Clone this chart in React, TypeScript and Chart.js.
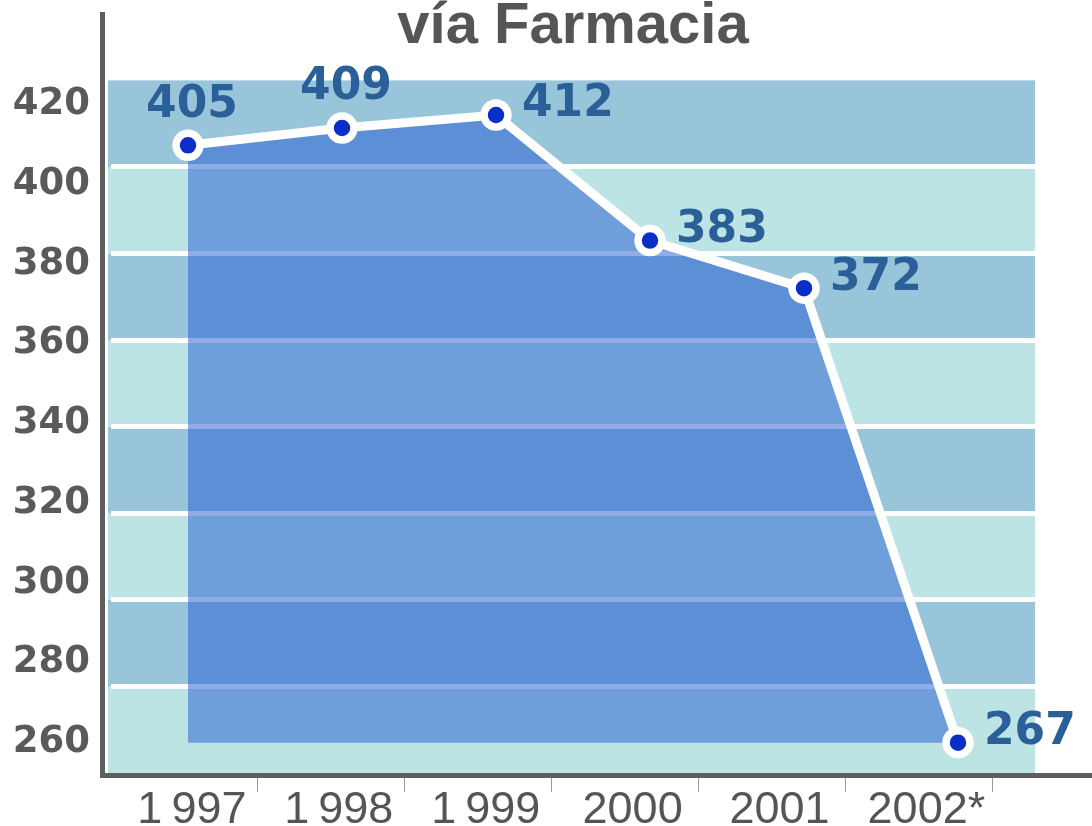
import React, { useEffect, useRef } from 'react';
import { Chart, registerables } from 'chart.js';

Chart.register(...registerables);

const titleText = 'vía Farmacia';
const categories = ['1\u2009997', '1\u2009998', '1\u2009999', '2000', '2001', '2002*'];
const values = [405, 409, 412, 383, 372, 267];
const yTickValues = [260, 280, 300, 320, 340, 360, 380, 400, 420];

const Y_MIN = yTickValues[0];
const Y_MAX = yTickValues[yTickValues.length - 1];

const bandsPlugin = {
  id: 'bands',
  beforeDraw(chart: any) {
    const { ctx, chartArea } = chart;
    const y = chart.scales.y;
    ctx.save();
    for (let i = 0; i < yTickValues.length - 1; i++) {
      const top = y.getPixelForValue(yTickValues[i + 1]);
      const bottom = y.getPixelForValue(yTickValues[i]);
      ctx.fillStyle = i % 2 === 1 ? '#98c5da' : '#bde4e4';
      ctx.fillRect(chartArea.left - 3, top, chartArea.right - chartArea.left + 3, bottom - top);
    }
    ctx.restore();
  },
};

const valueLabelsPlugin = {
  id: 'valueLabels',
  afterDatasetsDraw(chart: any) {
    const { ctx } = chart;
    const meta = chart.getDatasetMeta(0);
    ctx.save();
    ctx.font = 'bold 44px "DejaVu Sans"';
    ctx.fillStyle = '#2b5f97';
    ctx.textBaseline = 'middle';
    meta.data.forEach((pt: any, i: number) => {
      const v = values[i];
      const rising = i < values.length - 1 && values[i + 1] > v;
      if (rising) {
        ctx.textAlign = 'center';
        ctx.fillText(String(v), pt.x + 4, pt.y - 40);
      } else {
        ctx.textAlign = 'left';
        ctx.fillText(String(v), pt.x + 26, pt.y - 10);
      }
    });
    ctx.restore();
  },
};

const axisLinesPlugin = {
  id: 'axisLines',
  afterDraw(chart: any) {
    const { ctx, chartArea, width } = chart;
    ctx.save();
    ctx.strokeStyle = '#5e5e5e';
    ctx.lineWidth = 5;
    ctx.lineCap = 'butt';
    ctx.beginPath();
    ctx.moveTo(chartArea.left - 8.5, 12);
    ctx.lineTo(chartArea.left - 8.5, chartArea.bottom + 5);
    ctx.moveTo(chartArea.left - 11, chartArea.bottom + 2.5);
    ctx.lineTo(width, chartArea.bottom + 2.5);
    ctx.stroke();
    ctx.restore();
  },
};

export default function App() {
  const canvasRef = useRef<HTMLCanvasElement | null>(null);

  useEffect(() => {
    if (!canvasRef.current) return;
    const chart = new Chart(canvasRef.current, {
      type: 'line',
      data: {
        labels: categories,
        datasets: [
          {
            data: values,
            xAxisID: 'x',
            yAxisID: 'y',
            borderColor: '#ffffff',
            borderWidth: 9,
            backgroundColor: 'rgba(31, 90, 208, 0.5)',
            fill: { value: Math.min(...values) },
            tension: 0,
            pointRadius: 12,
            pointBorderWidth: 7.5,
            pointBackgroundColor: '#0a2ec8',
            pointBorderColor: '#ffffff',
            clip: false as any,
          },
        ],
      },
      options: {
        responsive: false,
        animation: false,
        layout: { padding: { left: 0, right: 57, top: 0, bottom: 0 } },
        plugins: {
          legend: { display: false },
          tooltip: { enabled: false },
          title: {
            display: true,
            text: titleText,
            color: '#555555',
            fullSize: false,
            font: { family: 'Liberation Sans', size: 58, weight: 'bold', lineHeight: 0.8 },
            padding: { top: 4, bottom: 30 },
          },
        },
        scales: {
          x: {
            type: 'category',
            offset: true,
            display: false,
          },
          x2: {
            type: 'linear',
            position: 'bottom',
            min: -1,
            max: 5.29,
            afterBuildTicks: (s: any) => {
              s.ticks = categories.map((_, i) => ({ value: i }));
            },
            afterFit: (s: any) => {
              s.height = 53;
            },
            ticks: {
              stepSize: 1,
              autoSkip: false,
              maxRotation: 0,
              labelOffset: -66,
              padding: -8,
              color: '#555555',
              font: { family: 'Liberation Sans', size: 45 },
              callback: (v: any) => categories[v] ?? '',
            },
            grid: { drawOnChartArea: false, drawTicks: true, tickLength: 19, color: '#9a9a9a', lineWidth: 1 },
            border: { display: false },
          },
          y: {
            type: 'linear',
            position: 'left',
            min: Y_MIN,
            max: Y_MAX,
            afterFit: (s: any) => {
              s.width = 0;
            },
            ticks: { stepSize: 20, display: false },
            grid: {
              drawTicks: false,
              lineWidth: 5,
              color: (c: any) =>
                c.tick && (c.tick.value === Y_MIN || c.tick.value === Y_MAX) ? 'rgba(0,0,0,0)' : '#ffffff',
            },
            border: { display: false },
          },
          yl: {
            type: 'linear',
            position: 'left',
            min: 252.36,
            max: 426.01,
            afterBuildTicks: (s: any) => {
              s.ticks = yTickValues.map((v) => ({ value: v }));
            },
            afterFit: (s: any) => {
              s.width = 111;
            },
            ticks: {
              padding: 21,
              color: '#5a5a5a',
              font: { family: 'DejaVu Sans', size: 37, weight: 'bold' },
            },
            grid: { display: false, drawTicks: false },
            border: { display: false },
          },
        },
      } as any,
      plugins: [bandsPlugin, valueLabelsPlugin, axisLinesPlugin],
    });
    return () => chart.destroy();
  }, []);

  return (
    <div style={{ position: 'fixed', left: 0, top: 0, width: 1092, height: 826, background: '#ffffff' }}>
      <canvas ref={canvasRef} width={1092} height={826} />
    </div>
  );
}
